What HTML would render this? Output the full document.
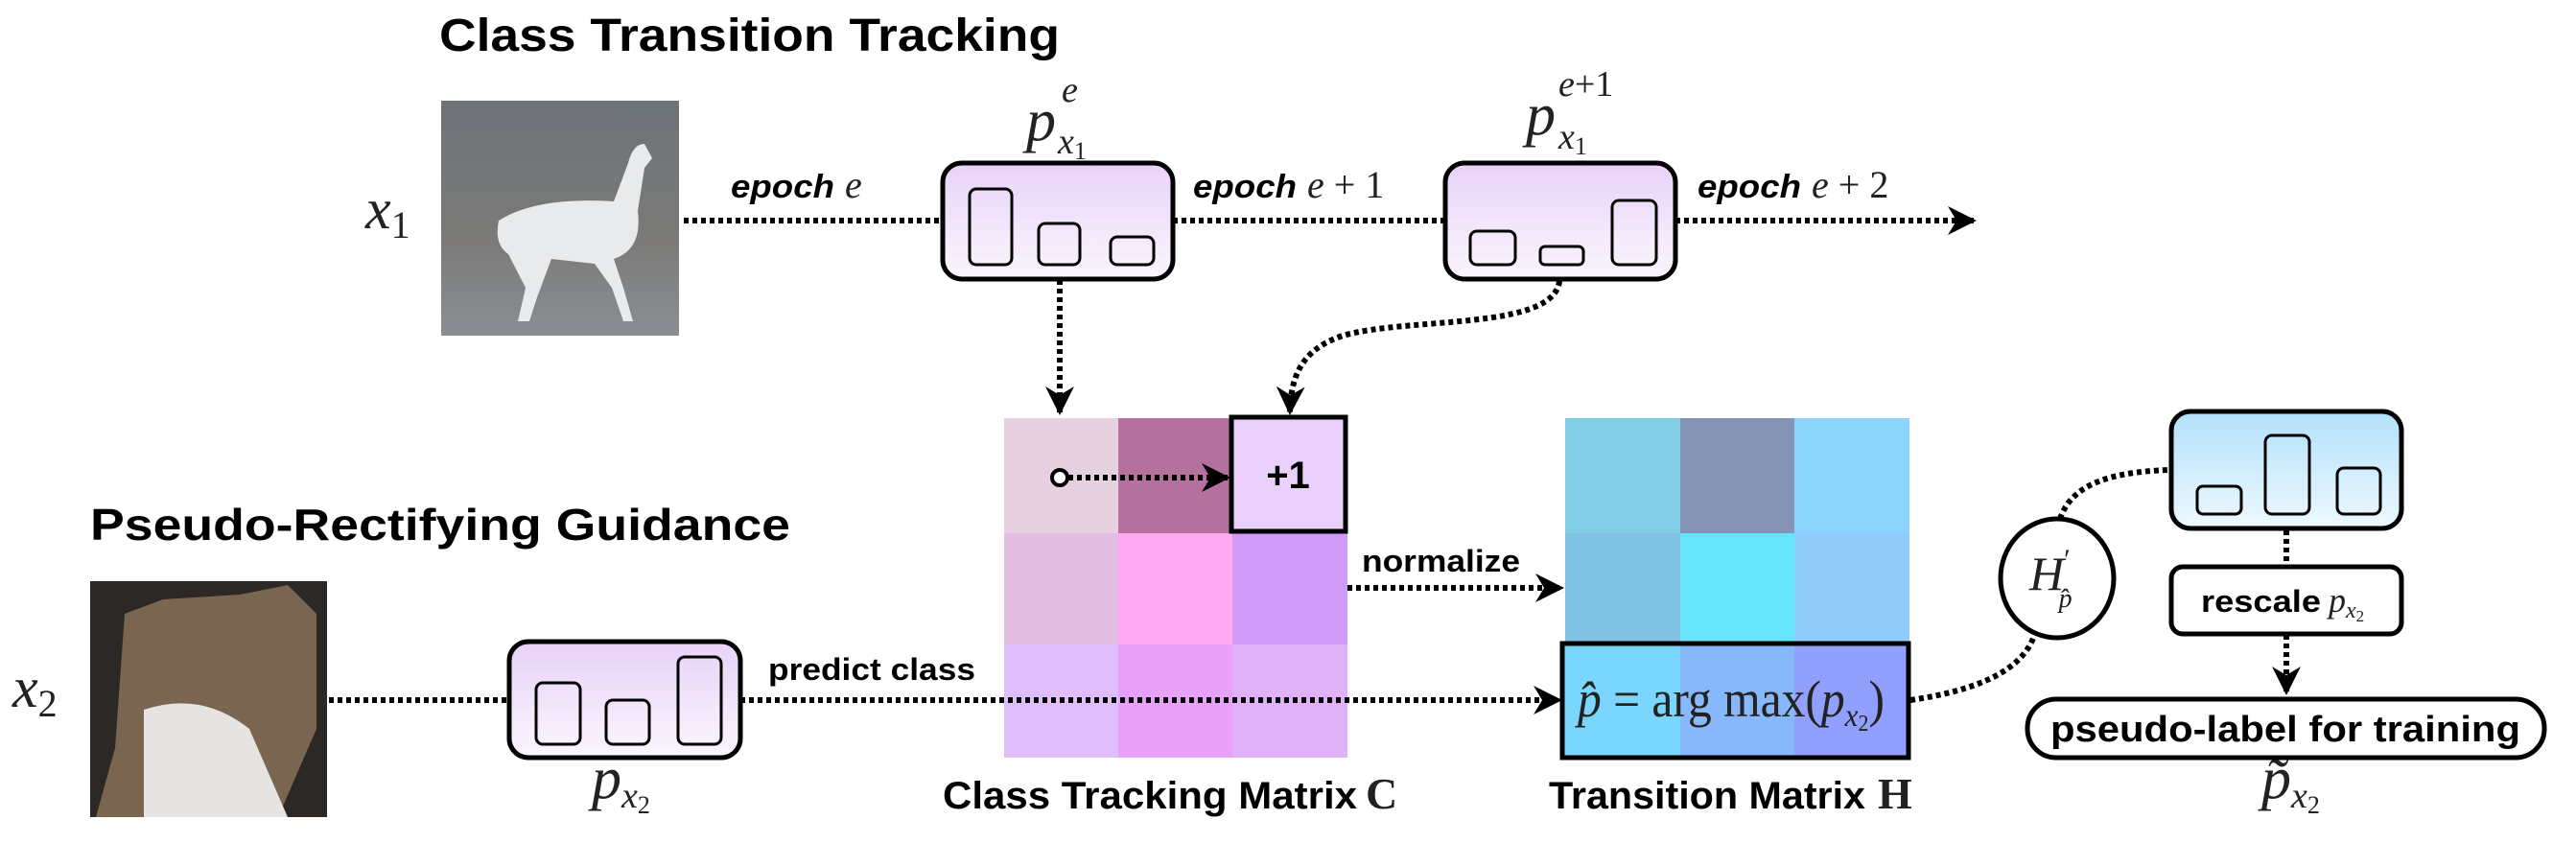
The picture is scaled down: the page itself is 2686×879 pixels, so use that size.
<!DOCTYPE html>
<html><head><meta charset="utf-8"><style>html,body{margin:0;padding:0;background:#fff}svg{display:block}.m{font-family:"Liberation Serif","DejaVu Serif",serif;fill:#222}</style></head><body>
<svg width="2686" height="879" viewBox="0 0 2686 879" xmlns="http://www.w3.org/2000/svg">
<defs>
<linearGradient id="pg" x1="0" y1="0" x2="0" y2="1"><stop offset="0" stop-color="#e8d2f8"/><stop offset="1" stop-color="#fbf6fe"/></linearGradient>
<linearGradient id="bg" x1="0" y1="0" x2="0" y2="1"><stop offset="0" stop-color="#b2e0fa"/><stop offset="1" stop-color="#eef9ff"/></linearGradient>
<linearGradient id="deer" x1="0" y1="0" x2="0" y2="1"><stop offset="0" stop-color="#6e7378"/><stop offset="0.6" stop-color="#7b7a78"/><stop offset="1" stop-color="#8a8f94"/></linearGradient>
<marker id="ahb" viewBox="0 0 20 20" refX="18" refY="10" markerWidth="30" markerHeight="30" markerUnits="userSpaceOnUse" orient="auto"><path d="M0,0 L20,10 L0,20 L6,10 Z" fill="#000"/></marker>
</defs>
<g font-family="Liberation Sans, sans-serif" font-weight="bold" fill="#000">
<text x="458" y="53" font-size="48" textLength="647" lengthAdjust="spacingAndGlyphs">Class Transition Tracking</text>
<text x="94" y="563" font-size="46" textLength="730" lengthAdjust="spacingAndGlyphs">Pseudo-Rectifying Guidance</text>
<text x="983" y="843" font-size="40" textLength="432" lengthAdjust="spacingAndGlyphs">Class Tracking Matrix</text>
<text x="1615" y="843" font-size="40" textLength="330" lengthAdjust="spacingAndGlyphs">Transition Matrix</text>
<text x="801" y="709" font-size="32" textLength="216" lengthAdjust="spacingAndGlyphs">predict class</text>
<text x="1420" y="596" font-size="32" textLength="165" lengthAdjust="spacingAndGlyphs">normalize</text>
<text x="762" y="206" font-size="34" font-style="italic" textLength="108" lengthAdjust="spacingAndGlyphs">epoch</text>
<text x="1244" y="206" font-size="34" font-style="italic" textLength="108" lengthAdjust="spacingAndGlyphs">epoch</text>
<text x="1770" y="206" font-size="34" font-style="italic" textLength="108" lengthAdjust="spacingAndGlyphs">epoch</text>
</g>
<g class="m">
<text x="1424" y="843" font-size="46" font-weight="bold">C</text>
<text x="1958" y="843" font-size="46" font-weight="bold">H</text>
<text x="881" y="206" font-size="40" font-style="italic">e</text>
<text x="1363" y="206" font-size="40"><tspan font-style="italic">e</tspan> + 1</text>
<text x="1889" y="206" font-size="40"><tspan font-style="italic">e</tspan> + 2</text>
<text x="381" y="238" font-size="60" font-style="italic">x<tspan font-size="40" font-style="normal" dy="10">1</tspan></text>
<text x="13" y="737" font-size="60" font-style="italic">x<tspan font-size="40" font-style="normal" dy="10">2</tspan></text>
<text x="1070" y="146" font-size="62" font-style="italic">p</text>
<text x="1107" y="106" font-size="38" font-style="italic">e</text>
<text x="1103" y="160" font-size="38" font-style="italic">x<tspan font-size="26" font-style="normal" dy="6">1</tspan></text>
<text x="1591" y="140" font-size="62" font-style="italic">p</text>
<text x="1625" y="100" font-size="38"><tspan font-style="italic">e</tspan>+1</text>
<text x="1625" y="155" font-size="38" font-style="italic">x<tspan font-size="26" font-style="normal" dy="6">1</tspan></text>
<text x="617" y="832" font-size="62" font-style="italic">p<tspan font-size="38" dy="10">x</tspan><tspan font-size="26" font-style="normal" dy="6">2</tspan></text>
<text x="2358" y="832" font-size="62" font-style="italic">p̃<tspan font-size="38" dy="10">x</tspan><tspan font-size="26" font-style="normal" dy="6">2</tspan></text>
</g>
<!-- images -->
<rect x="460" y="105" width="248" height="245" fill="url(#deer)"/>
<path d="M520,230 Q560,205 640,210 L655,170 Q660,150 672,150 L680,165 L672,175 L665,220 Q670,260 640,270 L650,300 L660,335 L650,335 L638,300 L620,275 L575,270 L560,310 L552,335 L540,335 L548,300 L530,265 Q515,255 520,230 Z" fill="#e9eaec"/>
<rect x="94" y="606" width="247" height="246" fill="#2c2826"/>
<path d="M130,640 L170,625 L250,620 L300,610 L330,640 L330,760 L290,852 L100,852 L120,780 Z" fill="#7a6650"/>
<path d="M150,740 Q210,720 260,760 L300,852 L150,852 Z" fill="#e6e4e2"/>
<!-- matrix C -->
<rect x="1047" y="436" width="119" height="120" fill="#e5d1df"/>
<rect x="1166" y="436" width="119" height="120" fill="#b5719d"/>
<rect x="1047" y="556" width="119" height="116" fill="#e4bde3"/>
<rect x="1166" y="556" width="119" height="116" fill="#fdaaf1"/>
<rect x="1285" y="556" width="120" height="116" fill="#d29af8"/>
<rect x="1047" y="672" width="119" height="118" fill="#e0befc"/>
<rect x="1166" y="672" width="119" height="118" fill="#e9a0f8"/>
<rect x="1285" y="672" width="120" height="118" fill="#e0b0f8"/>
<rect x="1284" y="435" width="119" height="119" fill="#e9d1fb" stroke="#000" stroke-width="5"/>
<text x="1343" y="509" font-family="Liberation Sans, sans-serif" font-weight="bold" font-size="40" text-anchor="middle">+1</text>
<circle cx="1105" cy="498" r="8" fill="#fff" stroke="#000" stroke-width="4"/>
<!-- matrix H -->
<rect x="1632" y="436" width="120" height="120" fill="#82cee6"/>
<rect x="1752" y="436" width="119" height="120" fill="#8594b4"/>
<rect x="1871" y="436" width="120" height="120" fill="#8dd4fc"/>
<rect x="1632" y="556" width="120" height="114" fill="#82c2e4"/>
<rect x="1752" y="556" width="119" height="114" fill="#66e4fc"/>
<rect x="1871" y="556" width="120" height="114" fill="#90ccfc"/>
<rect x="1630" y="672" width="122" height="117" fill="#7ad6fc"/>
<rect x="1752" y="672" width="119" height="117" fill="#88b8fc"/>
<rect x="1871" y="672" width="118" height="117" fill="#90a0fc"/>
<rect x="1629" y="671" width="361" height="119" fill="none" stroke="#000" stroke-width="5"/>
<text class="m" x="1645" y="747" font-size="54" textLength="320" lengthAdjust="spacingAndGlyphs"><tspan font-style="italic">p̂</tspan> = arg max(<tspan font-style="italic">p</tspan><tspan font-size="34" font-style="italic" dy="10">x</tspan><tspan font-size="24" dy="5">2</tspan><tspan dy="-15">)</tspan></text>
<!-- dotted connectors -->
<g fill="none" stroke="#000" stroke-width="6" stroke-dasharray="5 4">
<path d="M713,230 L983,230"/>
<path d="M1223,230 L1507,230"/>
<path d="M1747,230 L2058,230" marker-end="url(#ahb)"/>
<path d="M1105,292 L1105,430" marker-end="url(#ahb)"/>
<path d="M1626,293 C1620,345 1470,330 1400,350 C1355,365 1346,395 1345,430" marker-end="url(#ahb)"/>
<path d="M1114,498 L1280,498" marker-end="url(#ahb)"/>
<path d="M1405,613 L1628,613" marker-end="url(#ahb)"/>
<path d="M343,730 L531,730"/>
<path d="M772,730 L1626,730" marker-end="url(#ahb)"/>
<path d="M1992,730 C2060,720 2110,700 2122,660"/>
<path d="M2148,541 C2160,505 2200,492 2262,490"/>
<path d="M2384,553 L2384,590"/>
<path d="M2384,662 L2384,722" marker-end="url(#ahb)"/>
</g>
<!-- H' circle -->
<ellipse cx="2145" cy="603" rx="59" ry="62" fill="#fff" stroke="#000" stroke-width="5"/>
<text class="m" x="2116" y="615" font-size="50" font-style="italic">H<tspan font-size="30" font-style="normal" dy="-22">′</tspan><tspan font-size="28" dx="-12" dy="40">p̂</tspan></text>
<!-- prob boxes -->
<g stroke="#000">
<rect x="983" y="170" width="240" height="121" rx="20" fill="url(#pg)" stroke-width="5"/>
<rect x="1011" y="197" width="44" height="79" rx="7" fill="none" stroke-width="3"/>
<rect x="1083" y="233" width="43" height="43" rx="7" fill="none" stroke-width="3"/>
<rect x="1158" y="247" width="45" height="29" rx="7" fill="none" stroke-width="3"/>
<rect x="1507" y="170" width="240" height="121" rx="20" fill="url(#pg)" stroke-width="5"/>
<rect x="1533" y="241" width="47" height="35" rx="7" fill="none" stroke-width="3"/>
<rect x="1606" y="257" width="45" height="19" rx="5" fill="none" stroke-width="3"/>
<rect x="1681" y="209" width="46" height="67" rx="7" fill="none" stroke-width="3"/>
<rect x="531" y="669" width="241" height="121" rx="20" fill="url(#pg)" stroke-width="5"/>
<rect x="559" y="712" width="46" height="64" rx="7" fill="none" stroke-width="3"/>
<rect x="632" y="730" width="45" height="46" rx="7" fill="none" stroke-width="3"/>
<rect x="707" y="685" width="45" height="91" rx="7" fill="none" stroke-width="3"/>
<rect x="2264" y="429" width="240" height="122" rx="20" fill="url(#bg)" stroke-width="5"/>
<rect x="2291" y="507" width="46" height="29" rx="6" fill="none" stroke-width="3"/>
<rect x="2362" y="454" width="46" height="82" rx="7" fill="none" stroke-width="3"/>
<rect x="2437" y="488" width="45" height="48" rx="7" fill="none" stroke-width="3"/>
<rect x="2264" y="591" width="240" height="70" rx="12" fill="#fff" stroke-width="5"/>
<rect x="2114" y="729" width="539" height="61" rx="30" fill="#fff" stroke-width="5"/>
</g>
<text x="2295" y="638" font-family="Liberation Sans, sans-serif" font-weight="bold" font-size="32" textLength="125" lengthAdjust="spacingAndGlyphs">rescale</text>
<text class="m" x="2428" y="638" font-size="36" font-style="italic">p<tspan font-size="24" dy="6">x</tspan><tspan font-size="17" font-style="normal" dy="4">2</tspan></text>
<text x="2138" y="773" font-family="Liberation Sans, sans-serif" font-weight="bold" font-size="38" textLength="490" lengthAdjust="spacingAndGlyphs">pseudo-label for training</text>
</svg>
</body></html>
